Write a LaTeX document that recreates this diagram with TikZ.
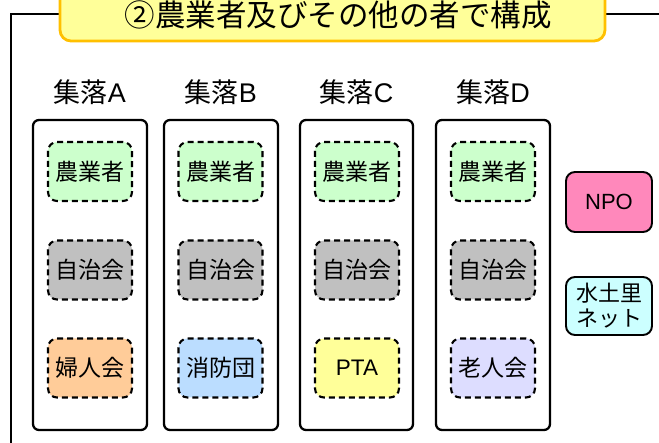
\documentclass[tikz,border=0pt]{standalone}
\usepackage{fontspec}
\setmainfont{Noto Sans CJK JP}
\newfontfamily\lat{Liberation Sans}
\definecolor{cgreen}{HTML}{CCFFCC}
\definecolor{cgray}{HTML}{C0C0C0}
\definecolor{corange}{HTML}{FFCC99}
\definecolor{cblue}{HTML}{BBDDFF}
\definecolor{cyellow}{HTML}{FFFF99}
\definecolor{cpurple}{HTML}{DDDDFF}
\definecolor{cpink}{HTML}{FF88BB}
\definecolor{ccyan}{HTML}{CCFFFF}
\definecolor{tfill}{HTML}{FFFF99}
\definecolor{tborder}{HTML}{FFC000}
\tikzset{
  colbox/.style={draw=black, line width=2.3pt, rounded corners=6pt},
  member/.style={draw=black, line width=2.1pt, dash pattern=on 6pt off 4pt, rounded corners=9pt,
    minimum width=84pt, minimum height=59pt, inner sep=0pt, font=\fontsize{23}{26}\selectfont},
  extbox/.style={draw=black, line width=1.9pt, rounded corners=9pt,
    minimum width=86pt, minimum height=59pt, inner sep=0pt, align=center},
  collabel/.style={font=\fontsize{27}{30}\selectfont, inner sep=0pt},
}
\begin{document}
\begin{tikzpicture}[x=1pt,y=-1pt]
\useasboundingbox (0,0) rectangle (659,443);
\fill[white] (0,0) rectangle (659,443);
% outer frame
\coordinate (fb) at (11,450);
\coordinate (ft) at (11,14);
\coordinate (fr) at (670,14);
\draw[line width=1.6pt] (fb) -- (ft) -- (fr);
% title
\node[draw=tborder, fill=tfill, line width=2.8pt, rounded corners=11pt,
  minimum width=545pt, minimum height=66pt, inner sep=0pt] (title) at (332.5,8) {};
\node[font=\fontsize{30.5}{34}\selectfont, inner sep=0pt] (titletext) at (338,15) {②農業者及びその他の者で構成};
% columns
\foreach \n/\xa/\xb in {A/33/147, B/164/278, C/300/413, D/436/550}{
  \draw[colbox] (\xa,120) rectangle (\xb,430);
  \node[collabel] (lab\n) at ({(\xa+\xb)/2},92) {集落{\lat\n}};
}
% member boxes
\foreach \n/\xc in {A/90, B/220.5, C/357, D/493}{
  \node[member, fill=cgreen] (farm\n) at (\xc,171.5) {農業者};
  \node[member, fill=cgray] (ass\n) at (\xc,270) {自治会};
}
\node[member, fill=corange] (grpA) at (90,368) {婦人会};
\node[member, fill=cblue] (grpB) at (220.5,368) {消防団};
\node[member, fill=cyellow, font=\lat\fontsize{22.5}{25}\selectfont] (grpC) at (357,368) {PTA};
\node[member, fill=cpurple] (grpD) at (493,368) {老人会};
% external
\node[extbox, fill=cpink, minimum height=60pt, font=\lat\fontsize{22}{25}\selectfont] (npo) at (609,202) {NPO};
\node[extbox, fill=ccyan, minimum height=58pt, font=\fontsize{22}{25}\selectfont] (mido) at (609,306) {水土里\\ネット};
\end{tikzpicture}
\end{document}
